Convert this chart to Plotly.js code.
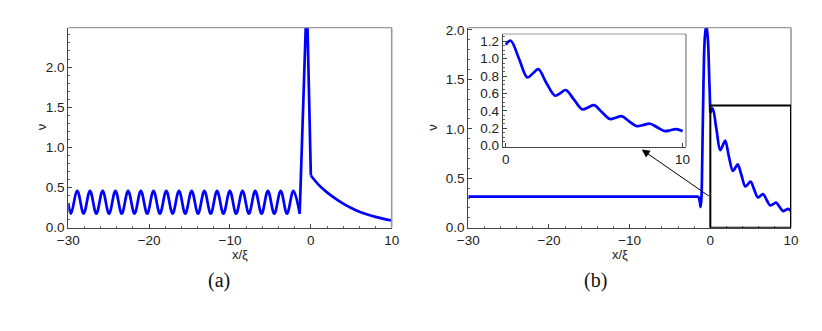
<!doctype html>
<html>
	<head>
		<meta charset="utf-8">
		<script src="https://cdn.plot.ly/plotly-3.0.1.min.js"></script>
		<style>
			body { margin: 0; background: #fff; }
		</style>
	</head>
	<body>
		<div id="chart"></div>
		<script>
			// panel (a): oscillating part, spike, decay
			let aOscX = [-30, -29.67, -28.89, -28.10, -27.32, -26.53, -25.75, -24.96, -24.17, -23.39, -22.60,
				-21.81, -21.03, -20.24, -19.46, -18.67, -17.88, -17.10, -16.31, -15.53, -14.74, -13.95,
				-13.17, -12.38, -11.60, -10.81, -10.02, -9.24, -8.45, -7.66, -6.88, -6.09, -5.31, -4.52,
				-3.73, -2.95, -2.16, -1.38]
			let aOscY = [0.30, 0.175, 0.46, 0.175, 0.46, 0.175, 0.46, 0.175, 0.46, 0.175, 0.46,
				0.175, 0.46, 0.175, 0.46, 0.175, 0.46, 0.175, 0.46, 0.175, 0.46, 0.175,
				0.46, 0.175, 0.46, 0.175, 0.46, 0.175, 0.46, 0.175, 0.46, 0.175, 0.46, 0.175,
				0.46, 0.175, 0.46, 0.175]
			let aSpikeX = [-1.38, -0.5, 0]
			let aSpikeY = [0.175, 2.9, 0.65]
			let aDecX = [0, 1, 2, 3, 4, 5, 6, 7, 8, 9, 10]
			let aDecY = [0.65, 0.53, 0.44, 0.365, 0.30, 0.245, 0.20, 0.165, 0.135, 0.11, 0.09]

			// panel (b): flat part, spike, damped decay (also shown in the inset)
			let bFlatX = [-30, -1.45]
			let bFlatY = [0.315, 0.315]
			let bSpikeX = [-1.45, -1.3, -1.2, -1.1, -1.0, -0.85, -0.7, -0.5, -0.3, -0.15, 0]
			let bSpikeY = [0.315, 0.26, 0.21, 0.3, 0.7, 1.45, 1.9, 2.06, 1.9, 1.55, 1.16]
			let bDecX = [0, 0.28, 0.75, 1.22, 1.53, 1.84, 2.3, 2.79, 3.09, 3.39, 3.86, 4.33, 4.66, 4.99,
				5.44, 5.89, 6.22, 6.55, 6.98, 7.40, 7.78, 8.15, 8.58, 9.0, 9.31, 9.62, 10]
			let bDecY = [1.16, 1.207, 1.0, 0.785, 0.83, 0.88, 0.72, 0.575, 0.605, 0.64, 0.53, 0.418, 0.44, 0.467,
				0.385, 0.307, 0.322, 0.34, 0.28, 0.226, 0.238, 0.253, 0.21, 0.168, 0.178, 0.19, 0.168]

			let blue = '#0000ff'
			let font = { family: 'Liberation Sans, Arial, sans-serif', size: 13.5, color: '#222' }
			let labelFont = { family: 'Liberation Sans, Arial, sans-serif', size: 13, color: '#222' }
			let serif = { family: 'Liberation Serif, serif', size: 20, color: '#111' }

			function line (x, y, xa, ya, shape) {
				return {
					x, y, xaxis: xa, yaxis: ya,
					type: 'scatter', mode: 'lines', hoverinfo: 'skip',
					line: { color: blue, width: 2.7, shape: shape || 'linear', smoothing: 1 }
				}
			}

			let traces = [
				line(aOscX, aOscY, 'x', 'y', 'spline'),
				line(aSpikeX, aSpikeY, 'x', 'y'),
				line(aDecX, aDecY, 'x', 'y', 'spline'),
				line(bFlatX, bFlatY, 'x2', 'y2'),
				line(bSpikeX, bSpikeY, 'x2', 'y2', 'spline'),
				line(bDecX, bDecY, 'x2', 'y2', 'spline'),
				line(bDecX, bDecY, 'x3', 'y3', 'spline')
			]

			function axis (extra) {
				return Object.assign({
					showgrid: false, zeroline: false,
					showline: true, linecolor: '#444', linewidth: 1,
					ticks: 'inside', ticklen: 4, tickcolor: '#444', tickwidth: 1,
					tickfont: font, fixedrange: true
				}, extra)
			}

			let yTop = 0.9163, yBot = 0.3121

			let layout = {
				width: 822, height: 331,
				margin: { l: 0, r: 0, t: 0, b: 0 },
				paper_bgcolor: '#fff', plot_bgcolor: 'rgba(0,0,0,0)',
				showlegend: false,
				xaxis: axis({ domain: [0.0831, 0.4765], range: [-30, 10], dtick: 10, anchor: 'y',
					minor: { dtick: 2, ticks: 'inside', ticklen: 2, tickcolor: '#666' } }),
				yaxis: axis({ domain: [yBot, yTop], range: [0, 2.49], dtick: 0.5, tickformat: '.1f', anchor: 'x',
					minor: { dtick: 0.1, ticks: 'inside', ticklen: 2, tickcolor: '#666' } }),
				xaxis2: axis({ domain: [0.5697, 0.9623], range: [-30, 10], dtick: 10, anchor: 'y2',
					minor: { dtick: 2, ticks: 'inside', ticklen: 2, tickcolor: '#666' } }),
				yaxis2: axis({ domain: [yBot, yTop], range: [0, 2.023], dtick: 0.5, tickformat: '.1f', anchor: 'x2',
					minor: { dtick: 0.1, ticks: 'inside', ticklen: 2, tickcolor: '#666' } }),
				xaxis3: axis({ domain: [0.6116, 0.8345], range: [-0.17, 10.19], tickvals: [0, 10], anchor: 'y3' }),
				yaxis3: axis({ domain: [0.5568, 0.8973], range: [-0.011, 1.284], dtick: 0.2, tickformat: '.1f', anchor: 'x3',
					minor: { dtick: 0.05, ticks: 'inside', ticklen: 2, tickcolor: '#666' } }),
				shapes: [],
				annotations: [
					{ text: 'ν', xref: 'paper', yref: 'paper', x: 31.7 / 822, y: 1 - 127 / 331, showarrow: false,
						textangle: -90, font: labelFont },
					{ text: 'ν', xref: 'paper', yref: 'paper', x: 431.7 / 822, y: 1 - 127 / 331, showarrow: false,
						textangle: -90, font: labelFont },
					{ text: 'x/ξ', xref: 'paper', yref: 'paper', x: 230 / 822, y: 1 - 264 / 331, showarrow: false, font: labelFont },
					{ text: 'x/ξ', xref: 'paper', yref: 'paper', x: 629.7 / 822, y: 1 - 264 / 331, showarrow: false, font: labelFont },
					{ text: '(a)', xref: 'paper', yref: 'paper', x: 206 / 822, y: 1 - 294 / 331, showarrow: false, font: serif },
					{ text: '(b)', xref: 'paper', yref: 'paper', x: 609 / 822, y: 1 - 294 / 331, showarrow: false, font: serif },
					{ text: '', xref: 'x2', yref: 'y2', x: -8.5, y: 0.79, axref: 'x2', ayref: 'y2', ax: 0, ay: 0.31,
						showarrow: true, arrowhead: 2, arrowsize: 1.6, arrowwidth: 1, arrowcolor: '#000', standoff: 0 }
				]
			}

			// lighter top and right frame edges
			;['', '2', '3'].forEach(n => {
				let xr = 'x' + n + ' domain', yr = 'y' + n + ' domain'
				layout.shapes.push(
					{ type: 'line', xref: xr, yref: yr, x0: 0, x1: 1, y0: 1, y1: 1, line: { color: '#999', width: 1.2 } },
					{ type: 'line', xref: xr, yref: yr, x0: 1, x1: 1, y0: 0, y1: 1, line: { color: '#999', width: 1.6 } }
				)
			})
			layout.shapes.push({ type: 'rect', xref: 'x2', yref: 'y2', x0: 0, x1: 10, y0: 0, y1: 1.235,
				line: { color: '#000', width: 2 }, layer: 'above' })

			Plotly.newPlot('chart', traces, layout, { displayModeBar: false, staticPlot: true })
		</script>
	</body>
</html>
